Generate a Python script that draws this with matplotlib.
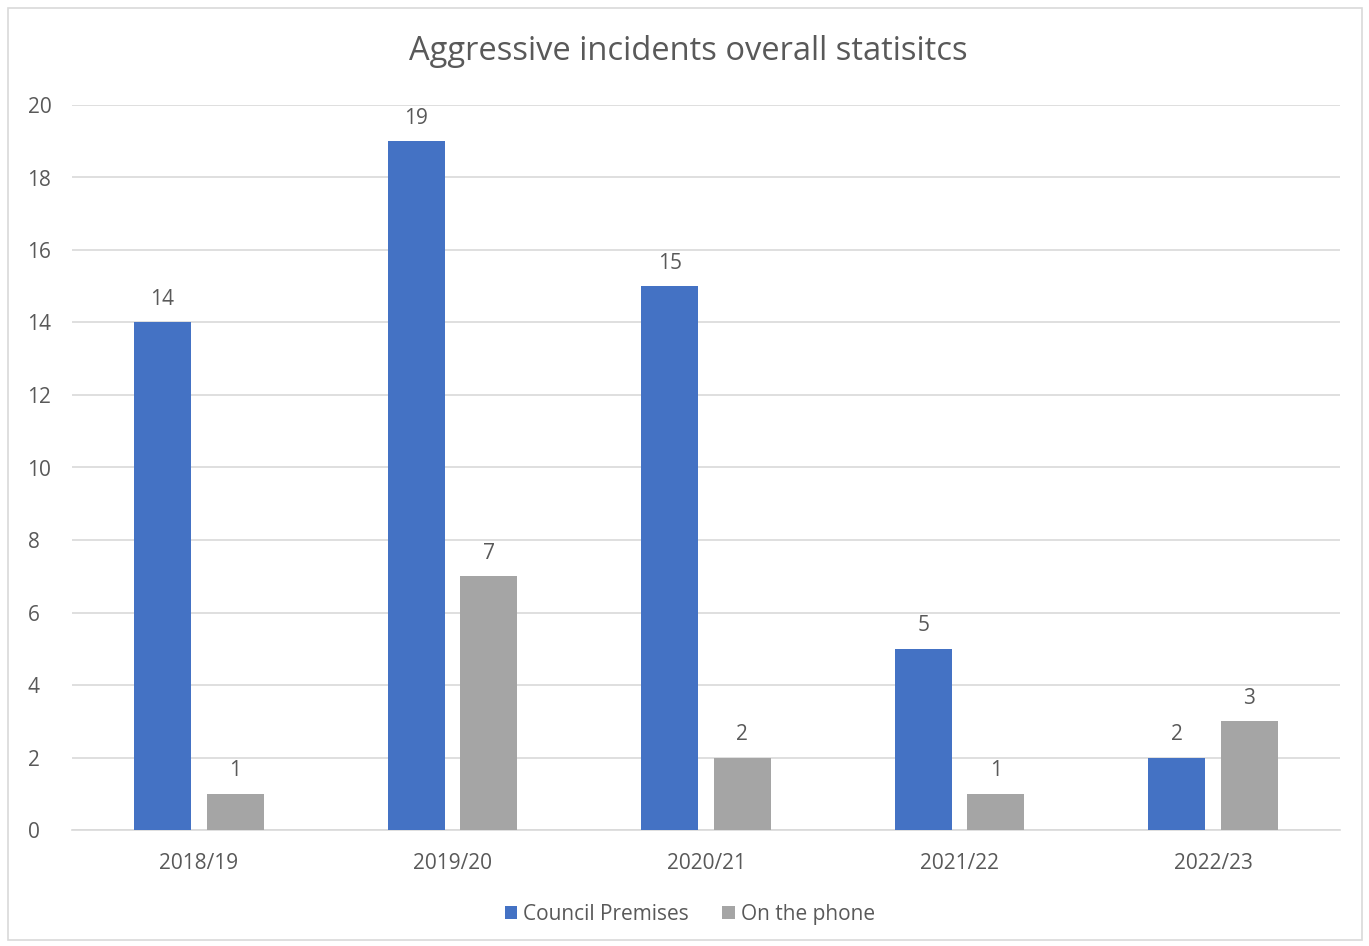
import matplotlib
matplotlib.use("Agg")
import matplotlib.pyplot as plt
from matplotlib.patches import Rectangle
import numpy as np

categories = ["2018/19", "2019/20", "2020/21", "2021/22", "2022/23"]
council = [14, 19, 15, 5, 2]
phone = [1, 7, 2, 1, 3]
series_names = ["Council Premises", "On the phone"]
title = "Aggressive incidents overall statisitcs"

W, H = 1369, 946
fig = plt.figure(figsize=(W/100, H/100), dpi=100)
plt.rcParams['font.family'] = ['Open Sans', 'DejaVu Sans']
txt = '#595959'
fs = 15

ax = fig.add_axes([72/W, 1-830/H, (1340-72)/W, (830-105)/H])
x = np.arange(len(categories))
bw = 0.225
off = 0.143
b1 = ax.bar(x-off, council, bw, color='#4472C4', label=series_names[0], zorder=3)
b2 = ax.bar(x+off, phone, bw, color='#A5A5A5', label=series_names[1], zorder=3)
for bars, vals in ((b1, council), (b2, phone)):
    for r, v in zip(bars, vals):
        ax.annotate(str(v), (r.get_x()+r.get_width()/2, v), xytext=(0, 9),
                    textcoords='offset points', ha='center', va='bottom',
                    fontsize=fs, color=txt)

ax.set_xlim(-0.5, len(categories)-0.5)
ax.set_ylim(0, 20)
ax.set_yticks(range(0, 21, 2))
ax.set_xticks(x)
ax.set_xticklabels(categories)
ax.tick_params(axis='both', length=0, labelsize=fs, colors=txt)
ax.tick_params(axis='x', pad=16.5)
ax.tick_params(axis='y', pad=32)
ax.grid(axis='y', color='#D9D9D9', linewidth=1.2, zorder=0)
for s in ['top', 'right', 'left']:
    ax.spines[s].set_visible(False)
ax.spines['bottom'].set_color('#D9D9D9')
ax.spines['bottom'].set_linewidth(1.2)
for lab in ax.get_yticklabels():
    lab.set_horizontalalignment('left')

fig.text(688/W, 1-51/H, title, ha='center', va='center', fontsize=23.5, color=txt)

leg = fig.legend(handles=[b1, b2], labels=series_names, loc='center',
                 bbox_to_anchor=(690/W, 1-914/H), ncol=2, frameon=False,
                 fontsize=fs, handlelength=0.6, handleheight=0.6,
                 handletextpad=0.3, columnspacing=1.6, labelcolor=txt)

fig.patches.append(Rectangle((8/W, 1-940/H), (1362-8)/W, (940-8)/H,
                             transform=fig.transFigure, fill=False,
                             edgecolor='#D9D9D9', linewidth=1.2))

fig.savefig("out.png", dpi=100, facecolor='white')
